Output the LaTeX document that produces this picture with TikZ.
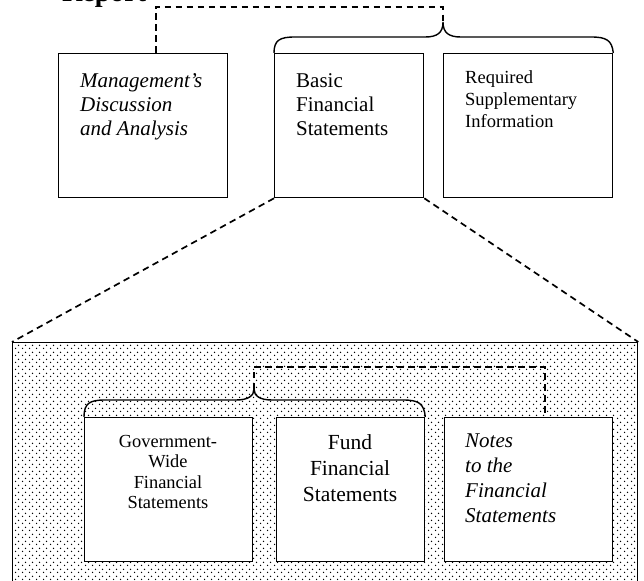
\documentclass[tikz,border=0pt]{standalone}
\usepackage{fontspec}
\setmainfont{Liberation Serif}
\usetikzlibrary{patterns.meta}
\tikzdeclarepattern{name=sdots,type=uncolored,bounding box={(0pt,0pt) and (7pt,7pt)},tile size={(7pt,7pt)},code={\fill (1.75pt,1.75pt) circle (0.85pt); \fill (5.25pt,5.25pt) circle (0.85pt);}}
\begin{document}
\begin{tikzpicture}[x=1pt,y=-1pt,
  box/.style={draw,line width=1.3pt,fill=white,inner sep=0pt,anchor=north west},
  txt/.style={inner sep=0pt,anchor=north west,align=left},
  ctxt/.style={inner sep=0pt,anchor=north,align=center},
  dsh/.style={dash pattern=on 6.5pt off 4.5pt,line width=1.7pt},
  brc/.style={line width=1.4pt}]
\useasboundingbox (0,0) rectangle (644,580);
\fill[white] (0,0) rectangle (644,580);
% title (cut off at the top)
\node[inner sep=0pt,anchor=base west,font=\fontsize{28}{30}\selectfont\bfseries] (report) at (62,2) {Report};
% upper boxes
\node[box,minimum width=169pt,minimum height=144pt] (mda) at (58,53) {};
\node[box,minimum width=149pt,minimum height=144pt] (basic) at (274,53) {};
\node[box,minimum width=169pt,minimum height=144pt] (rsi) at (443,53) {};
\node[txt,font=\fontsize{21}{24}\selectfont\itshape] (mdat) at (80,73) {Management’s\\Discussion\\and Analysis};
\node[txt,font=\fontsize{21}{24}\selectfont] (basict) at (296,73) {Basic\\Financial\\Statements};
\node[txt,font=\fontsize{18.5}{22}\selectfont] (rsit) at (465,70) {Required\\Supplementary\\Information};
% upper brace
\coordinate (utip) at (443,22);
\coordinate (utop) at (443,7);
\draw[brc] (basic.north west) .. controls (274,40) and (280,37) .. (295,37) -- (425,37)
  .. controls (437,37) and (443,33) .. (utip)
  .. controls (443,33) and (449,37) .. (461,37) -- (591,37)
  .. controls (606,37) and (612,40) .. (rsi.north east);
\draw[dsh] ([xshift=12.5pt]mda.north) |- (utop) -- (utip);
% lower big dotted box
\node[box,draw,pattern=sdots,minimum width=625pt,minimum height=300pt] (outer) at (12,342) {};
\draw[dsh] (basic.south west) -- (outer.north west);
\draw[dsh] (basic.south east) -- (outer.north east);
% lower boxes
\node[box,minimum width=168pt,minimum height=144pt] (gov) at (84,417) {};
\node[box,minimum width=148pt,minimum height=144pt] (fund) at (276,417) {};
\node[box,minimum width=168pt,minimum height=144pt] (notes) at (444,417) {};
\node[ctxt,font=\fontsize{18.4}{20.5}\selectfont] (govt) at (168,435) {Government-\\Wide\\Financial\\Statements};
\node[ctxt,font=\fontsize{21.5}{26}\selectfont] (fundt) at (350,434) {Fund\\Financial\\Statements};
\node[txt,font=\fontsize{21}{24.7}\selectfont\itshape] (notest) at (465,434) {Notes\\to the\\Financial\\Statements};
% lower brace
\coordinate (ltip) at (254,389);
\coordinate (ltop) at (545,367);
\draw[brc] (gov.north west) .. controls (84,403) and (90,400) .. (105,400) -- (236,400)
  .. controls (248,400) and (254,396) .. (ltip)
  .. controls (254,396) and (260,400) .. (272,400) -- (403,400)
  .. controls (418,400) and (424,403) .. (fund.north east);
\draw[dsh] (ltip) |- (ltop) -- (ltop |- notes.north);
\end{tikzpicture}
\end{document}
